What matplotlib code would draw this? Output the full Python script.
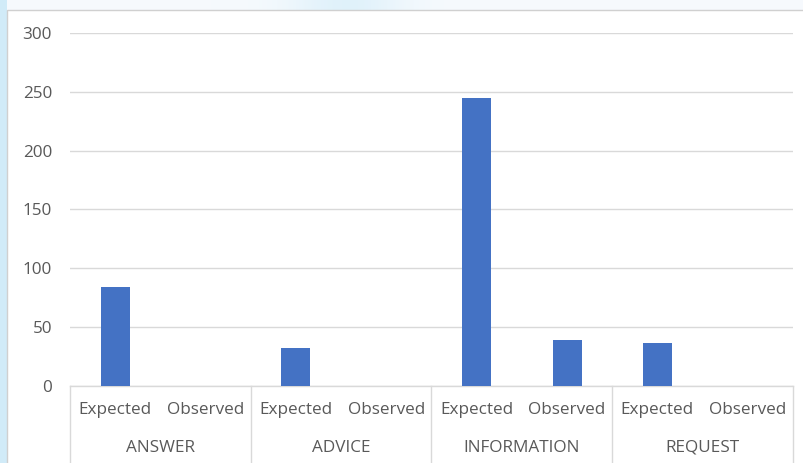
import numpy as np
import matplotlib
matplotlib.use("Agg")
import matplotlib.pyplot as plt
from matplotlib.patches import Rectangle

plt.rcParams['font.family'] = ['Open Sans', 'DejaVu Sans']

groups = ["ANSWER", "ADVICE", "INFORMATION", "REQUEST"]
subcats = ["Expected", "Observed"]
values = [84, 0, 32, 0, 245, 39, 36, 0]
yticks = [0, 50, 100, 150, 200, 250, 300]

W, H = 804, 463
FS = 12.3
fig = plt.figure(figsize=(W / 100, H / 100), dpi=100)

# soft blue backdrop behind the chart area
bg = fig.add_axes([0, 0, 1, 1], zorder=-10)
bg.set_axis_off()
xx = (np.arange(W) + 0.5) / W
yy = np.linspace(0, 1, 50)
X, Y = np.meshgrid(xx, yy)
base = np.array([0.965, 0.98, 0.995])
blue = np.array([0.82, 0.925, 0.975])
wx = np.exp(-((X - 0.43) / 0.07) ** 2) * 0.6 + (X < 7 / W) * 1.0
wx = np.clip(wx, 0, 1)
img = base[None, None, :] * (1 - wx[..., None]) + blue[None, None, :] * wx[..., None]
bg.imshow(img, extent=[0, 1, 0, 1], aspect='auto', origin='lower',
          interpolation='nearest')
bg.set_xlim(0, 1)
bg.set_ylim(0, 1)
bg.add_patch(Rectangle((7 / W, -0.01), 1, 1 - 10 / H + 0.01, facecolor='white',
                       edgecolor='#d0d0d0', linewidth=1.0))

x0, x1 = 70, 793
y_top, y_zero = 33, 385.7
ax = fig.add_axes([x0 / W, (H - y_zero) / H, (x1 - x0) / W, (y_zero - y_top) / H])
ax.set_facecolor('none')

pos = np.arange(len(values))
ax.bar(pos, values, width=0.32, color='#4472C4', zorder=3)

ax.set_xlim(-0.5, len(values) - 0.5)
ax.set_ylim(0, 300)
ax.set_yticks(yticks)
ax.set_yticklabels([str(v) for v in yticks])
ax.grid(axis='y', color='#d9d9d9', linewidth=1.0)
ax.tick_params(axis='y', length=0, pad=13, labelsize=FS, labelcolor='#595959')
ax.set_xticks([])
for s in ['top', 'right', 'left']:
    ax.spines[s].set_visible(False)
ax.spines['bottom'].set_color('#d9d9d9')
ax.spines['bottom'].set_linewidth(1.0)

# two-level category axis
trans = ax.get_xaxis_transform()
px = 1 / (y_zero - y_top)
for b in np.arange(-0.5, len(values), 2):
    ax.plot([b, b], [0, -(H - y_zero + 5) * px], color='#d9d9d9', linewidth=1.0,
            transform=trans, clip_on=False)
for i, v in enumerate(values):
    ax.text(i, -(410 - y_zero) * px, subcats[i % 2], transform=trans, ha='center',
            va='center', fontsize=FS, color='#595959')
for g, name in enumerate(groups):
    ax.text(2 * g + 0.5, -(448 - y_zero) * px, name, transform=trans, ha='center',
            va='center', fontsize=FS, color='#595959')

fig.savefig('out.png', dpi=100)
